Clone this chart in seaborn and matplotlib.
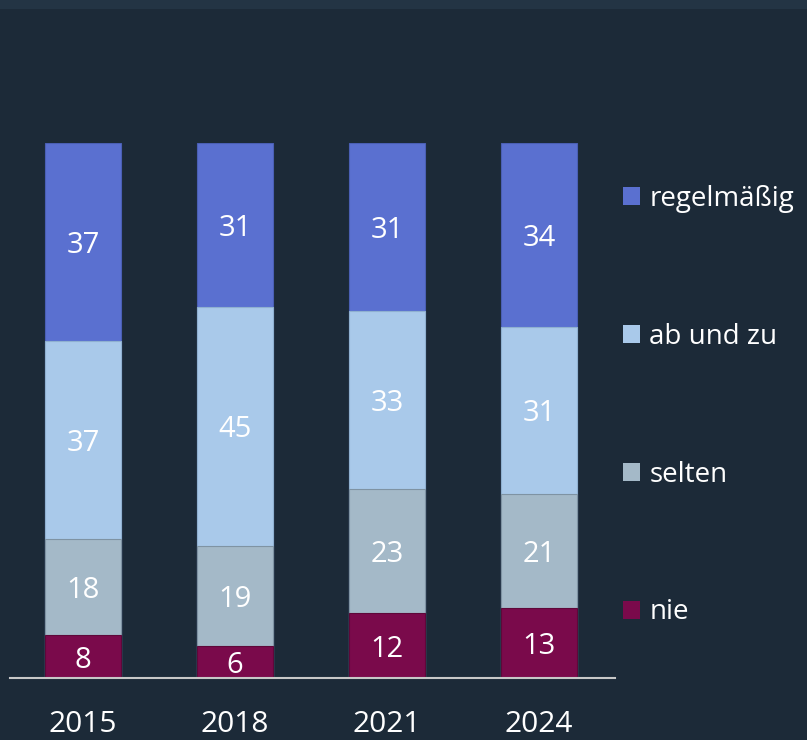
import matplotlib
matplotlib.use("Agg")
import matplotlib.pyplot as plt
from matplotlib.patches import Rectangle, Patch
import seaborn as sns
import numpy as np

years = ["2015", "2018", "2021", "2024"]
categories = ["regelmäßig", "ab und zu", "selten", "nie"]
nie = [8, 6, 12, 13]
selten = [18, 19, 23, 21]
ab_und_zu = [37, 45, 33, 31]
regelmaessig = [37, 31, 31, 34]
colors = {"regelmäßig": "#5a70d0", "ab und zu": "#a9c9ea", "selten": "#a4b9c8", "nie": "#7a0a4b"}
edges = {"regelmäßig": "#4a5fb4", "ab und zu": "#8fb0d0", "selten": "#7f93a3", "nie": "#5e0839"}

BG = "#1c2a38"
sns.set_theme(style="white")
plt.rcParams["font.family"] = ["Open Sans", "DejaVu Sans"]

fig = plt.figure(figsize=(8.07, 7.4), dpi=100, facecolor=BG)
fig.patches.append(Rectangle((0, 1 - 9 / 740), 1, 9 / 740, transform=fig.transFigure,
                             facecolor="#233444", edgecolor="none", zorder=0))
ax = fig.add_axes([10 / 807, 1 - 678 / 740, (615 - 10) / 807, (678 - 143) / 740])
ax.set_facecolor(BG)

# stack bottom->top: nie, selten, ab und zu, regelmäßig ; normalized to 100 %
layers = [("nie", nie), ("selten", selten), ("ab und zu", ab_und_zu), ("regelmäßig", regelmaessig)]
vals = np.array([v for _, v in layers], dtype=float)
totals = vals.sum(axis=0)
shares = vals / totals * 100
cum = np.cumsum(shares, axis=0)

# draw from the tallest cumulative stack to the smallest so lower segments overlay
for i in range(len(layers) - 1, -1, -1):
    name = layers[i][0]
    sns.barplot(x=years, y=cum[i], color=colors[name], saturation=1, width=0.5,
                edgecolor=edges[name], linewidth=0.8, ax=ax, zorder=2 + (3 - i))

for i, (name, raw) in enumerate(layers):
    for j, v in enumerate(raw):
        center = cum[i][j] - shares[i][j] / 2
        ax.text(j, center, str(v), ha="center", va="center_baseline", color="#ffffff",
                fontsize=21, zorder=10)

ax.set_xlim(-0.48, 3.5)
ax.set_ylim(0, 100)
for s in ["top", "right", "left"]:
    ax.spines[s].set_visible(False)
ax.spines["bottom"].set_color("#c8c8c8")
ax.spines["bottom"].set_linewidth(1.5)
ax.spines["bottom"].set_zorder(20)
ax.set_yticks([])
ax.tick_params(axis="x", length=0, pad=23, labelsize=21.5, labelcolor="#ffffff")
ax.set_xlabel("")
ax.set_ylabel("")

handles = [Patch(facecolor=colors[c], edgecolor="none") for c in categories]
leg = fig.legend(handles, categories, loc="upper left", bbox_to_anchor=(612 / 807, 1 - 174 / 740),
                 frameon=False, fontsize=20, labelcolor="#ffffff", handlelength=0.62,
                 handleheight=0.62, handletextpad=0.32, labelspacing=3.95, borderaxespad=0)

fig.savefig("out.png", dpi=100, facecolor=BG)
